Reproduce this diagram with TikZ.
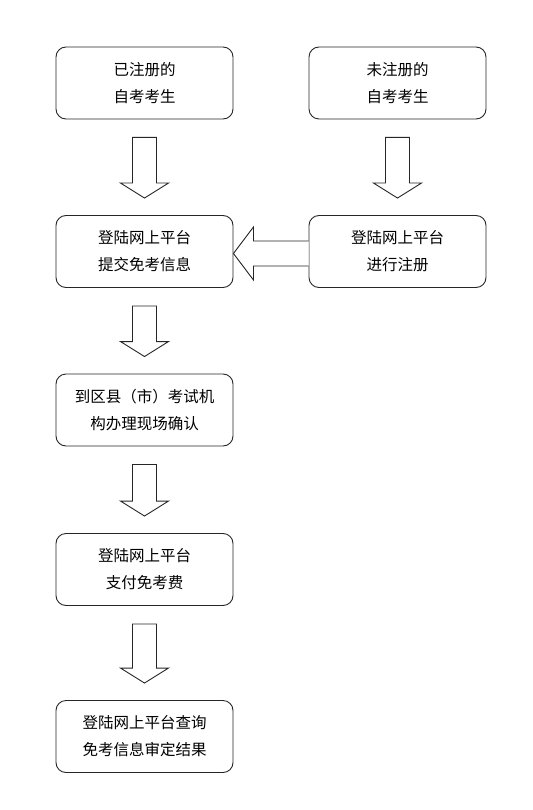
\documentclass[tikz,border=0pt]{standalone}
\usepackage{fontspec}
\usetikzlibrary{calc}
\newfontfamily\cjk{Noto Sans CJK SC}
\begin{document}
\begin{tikzpicture}[x=1pt,y=-1pt,
  box/.style={draw=black!85,line width=0.9pt,rounded corners=10pt,minimum width=177pt,minimum height=72pt,align=center,font=\cjk\fontsize{15.5}{27}\selectfont,inner sep=0pt},
  fatarrow/.style={draw=black!85,line width=0.9pt,fill=white,line join=miter}]
\useasboundingbox (0,0) rectangle (532,810);
\node[box] (a) at (144.5,83) {已注册的\\自考考生};
\node[box] (b) at (397.5,83) {未注册的\\自考考生};
\node[box] (c) at (144.5,251.5) {登陆网上平台\\提交免考信息};
\node[box] (d) at (397.5,251.5) {登陆网上平台\\进行注册};
\node[box] (e) at (144.5,410) {到区县（市）考试机\\构办理现场确认};
\node[box] (f) at (144.5,569.5) {登陆网上平台\\支付免考费};
\node[box] (g) at (144.5,736.5) {登陆网上平台查询\\免考信息审定结果};
% down arrows
\foreach \src/\dst in {a/c,b/d,c/e,e/f,f/g}{
  \path ($(\src.south)+(0,18)$) coordinate (s) ($(\dst.north)+(0,-17)$) coordinate (t);
  \draw[fatarrow] ($(s)+(-12,0)$) -- ($(s)+(12,0)$) -- ($(t)+(12,-15)$) -- ($(t)+(24,-15)$) -- (t) -- ($(t)+(-24,-15)$) -- ($(t)+(-12,-15)$) -- cycle;
}
% horizontal arrow from d to c
\path ($(d.west)+(0,2)$) coordinate (hs) ($(c.east)+(0,2)$) coordinate (ht);
\draw[fatarrow] ($(hs)+(0,-12.5)$) -- ($(ht)+(20,-12.5)$) -- ($(ht)+(20,-26.5)$) -- (ht) -- ($(ht)+(20,26.5)$) -- ($(ht)+(20,12.5)$) -- ($(hs)+(0,12.5)$);
\end{tikzpicture}
\end{document}
